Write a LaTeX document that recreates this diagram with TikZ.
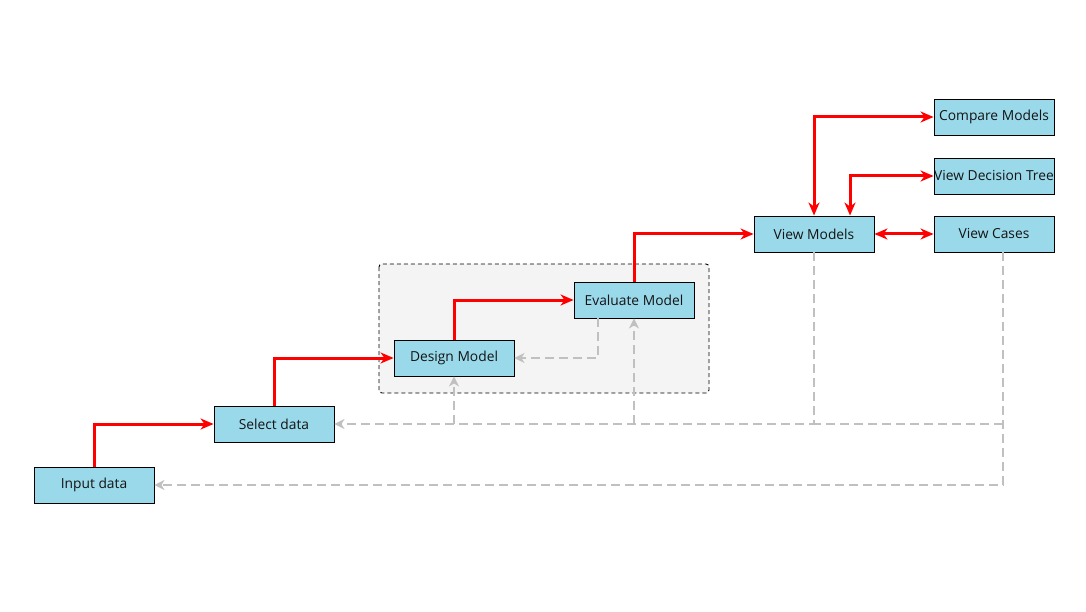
\documentclass[tikz,border=0pt]{standalone}
\usepackage{fontspec}
\setmainfont{Open Sans}
\usetikzlibrary{arrows.meta}
\definecolor{boxfill}{RGB}{153,217,234}
\definecolor{grp}{RGB}{244,244,244}
\definecolor{dgray}{RGB}{192,192,192}
\definecolor{txt}{RGB}{20,20,20}
\tikzset{
  stepbox/.style={draw=black, line width=0.9pt, fill=boxfill, minimum width=120pt, minimum height=36pt, inner sep=0pt, font=\fontsize{13.8}{15}\selectfont, text=txt},
  redflow/.style={draw=red, line width=3pt, -{Stealth[length=13pt,width=11pt,inset=4pt]}},
  redboth/.style={draw=red, line width=3pt, {Stealth[length=13pt,width=11pt,inset=4pt]}-{Stealth[length=13pt,width=11pt,inset=4pt]}},
  grayline/.style={draw=dgray, line width=2.4pt, dash pattern=on 9pt off 5pt},
  grayflow/.style={grayline, -{Stealth[length=10pt,width=10pt,inset=3pt]}},
  container/.style={draw=black, line width=0.9pt, dash pattern=on 4pt off 3pt, fill=grp, rounded corners=3pt}
}
\begin{document}
\begin{tikzpicture}[x=1pt,y=-1pt]
\useasboundingbox (0,0) rectangle (1086,612);
\fill[white] (0,0) rectangle (1086,612);
\draw[container] (379,264) rectangle (709,393);

\node[stepbox] (in)  at (94,485)  {Input data};
\node[stepbox] (sd)  at (274,424) {Select data};
\node[stepbox] (dm)  at (454,358) {Design Model};
\node[stepbox] (em)  at (634,300) {Evaluate Model};
\node[stepbox] (vm)  at (814,234) {View Models};
\node[stepbox] (vc)  at (994,234) {View Cases};
\node[stepbox] (vdt) at (994,176) {View Decision Tree};
\node[stepbox] (cm)  at (994,117) {Compare Models};

% gray dashed feedback
\coordinate (vcb) at ([xshift=9pt]vc.south);
\coordinate (j1) at (vcb |- sd.east);
\draw[grayflow] (vm.south) |- (sd.east);
\draw[grayline] (j1) -- (vm.south |- sd.east);
\draw[grayflow] (vcb) |- (in.east);
\draw[grayflow] (dm.south |- sd.east) -- (dm.south);
\draw[grayflow] (em.south |- sd.east) -- (em.south);
\draw[grayflow] ([xshift=-36pt]em.south) |- (dm.east);

% red flow
\draw[redflow] (in.north) |- (sd.west);
\draw[redflow] (sd.north) |- (dm.west);
\draw[redflow] (dm.north) |- (em.west);
\draw[redflow] (em.north) |- (vm.west);
\draw[redboth] (vm.east) -- (vc.west);
\draw[redboth] (vm.north) |- (cm.west);
\draw[redboth] ([xshift=36pt]vm.north) |- (vdt.west);
\end{tikzpicture}
\end{document}
